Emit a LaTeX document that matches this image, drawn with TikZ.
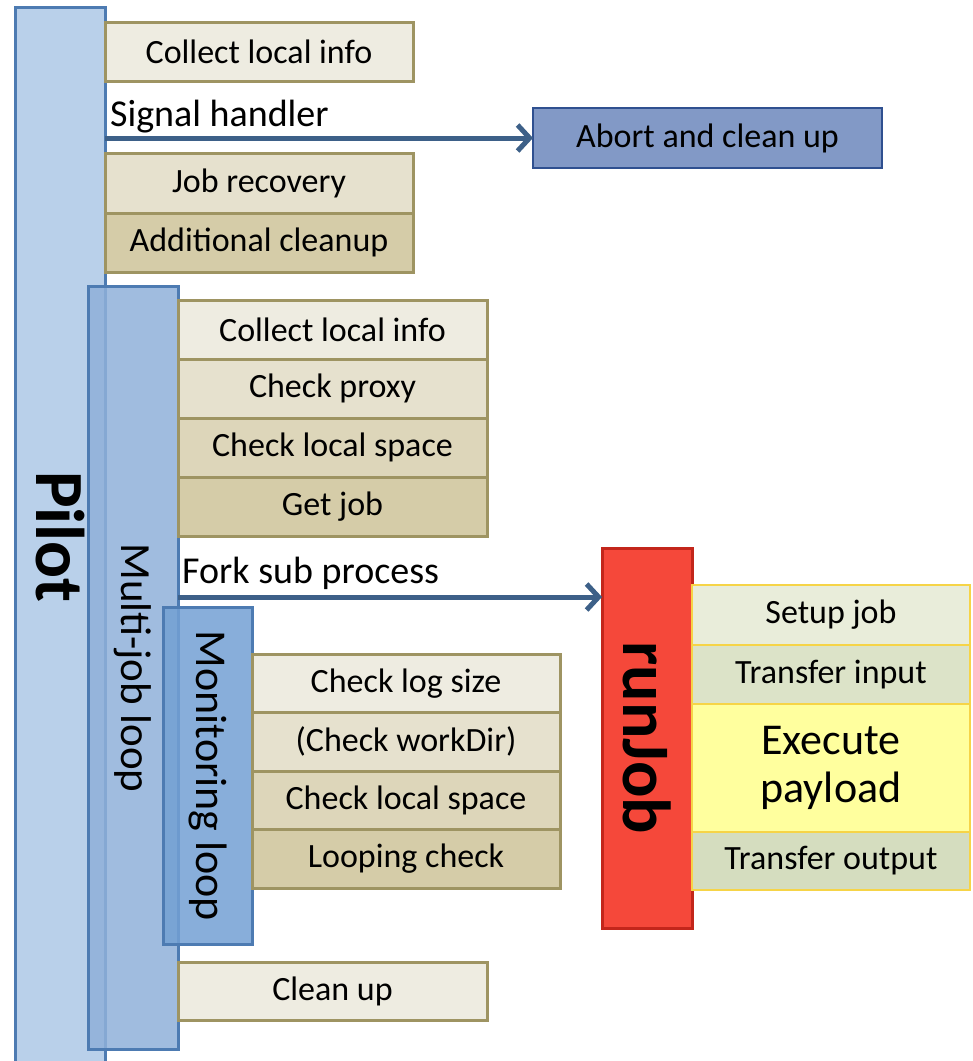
\documentclass[tikz,border=0pt]{standalone}
\usepackage{fontspec}
\setmainfont{Carlito}
\usetikzlibrary{positioning,arrows.meta}

\newlength{\du}
\setlength{\du}{1pt}

\definecolor{pilotfill}{HTML}{B9D0EA}
\definecolor{multifill}{HTML}{8FB0D9}
\definecolor{monfill}{HTML}{73A0D3}
\definecolor{barline}{HTML}{4D7BB2}
\definecolor{tanline}{HTML}{9E9462}
\definecolor{tanA}{HTML}{EEECE1}
\definecolor{tanB}{HTML}{E6E1CE}
\definecolor{tanC}{HTML}{DDD6BA}
\definecolor{tanD}{HTML}{D5CCA8}
\definecolor{abortfill}{HTML}{8299C6}
\definecolor{abortline}{HTML}{2F5090}
\definecolor{arrowcolor}{HTML}{3D6088}
\definecolor{runfill}{HTML}{F5483A}
\definecolor{runline}{HTML}{C3261B}
\definecolor{yelline}{HTML}{F6D447}
\definecolor{greenA}{HTML}{E9EDDA}
\definecolor{greenB}{HTML}{DCE3C8}
\definecolor{greenC}{HTML}{D5DDBF}
\definecolor{payfill}{HTML}{FFFF9E}

\tikzset{
  loopbar/.style={draw=barline, line width=3\du, rotate=-90, minimum height=90\du,
    inner sep=0pt, outer sep=0pt},
  stepbox/.style={draw=tanline, line width=3\du, minimum width=308\du, minimum height=59\du,
    inner sep=0pt, outer sep=0pt, font=\fontsize{34}{38}\selectfont},
  runbox/.style={draw=yelline, line width=2\du, minimum width=278\du, minimum height=59\du,
    inner sep=0pt, outer sep=0pt, font=\fontsize{34}{38}\selectfont},
  flowarrow/.style={draw=arrowcolor, line width=5\du,
    -{Straight Barb[length=12pt,width=26pt]}},
  flowlabel/.style={anchor=base west, inner sep=0pt, font=\fontsize{38}{42}\selectfont}
}

\begin{document}
\begin{tikzpicture}[x=\du,y=-\du]
\useasboundingbox (0,0) rectangle (973,1061);

% the three nested loop bars
\node[loopbar, fill=pilotfill, minimum width=1059\du, font=\fontsize{69}{74}\selectfont\bfseries]
  (pilot) at (60,537) {Pilot};
\node[loopbar, fill=multifill, fill opacity=0.85, text opacity=1, minimum width=763\du,
  font=\fontsize{43}{48}\selectfont] (multi) at (133,668) {Multi-job loop};
\node[loopbar, fill=monfill, fill opacity=0.85, text opacity=1, minimum width=337\du,
  minimum height=89\du, font=\fontsize{44}{48}\selectfont] (mon) at (207.5,776) {Monitoring loop};

% pilot steps
\node[stepbox, fill=tanA, anchor=north west] (pcollect) at (105,22) {Collect local info};
\node[stepbox, fill=tanB, anchor=north west, minimum height=60\du] (precover) at (105,153) {Job recovery};
\node[stepbox, fill=tanD, below=0pt of precover] (pclean) {Additional cleanup};

% signal handler
\node[draw=abortline, line width=2\du, fill=abortfill, minimum width=349\du, minimum height=60\du,
  inner sep=0pt, outer sep=0pt, anchor=north west, font=\fontsize{34}{38}\selectfont]
  (abort) at (533,108) {Abort and clean up};
\coordinate (sig) at (105,138);
\draw[flowarrow] (sig) -- (abort.west);
\node[flowlabel] (siglabel) at (110,126) {Signal handler};

% multi-job steps
\node[stepbox, fill=tanA, minimum width=309\du, anchor=north west] (mcollect) at (178,300) {Collect local info};
\node[stepbox, fill=tanB, minimum width=309\du, below=0pt of mcollect] (mproxy) {Check proxy};
\node[stepbox, fill=tanC, minimum width=309\du, below=0pt of mproxy] (mspace) {Check local space};
\node[stepbox, fill=tanD, minimum width=309\du, below=0pt of mspace] (mgetjob) {Get job};

% runJob
\node[draw=runline, line width=3\du, fill=runfill, rotate=-90, minimum width=380\du,
  minimum height=90\du, inner sep=0pt, outer sep=0pt, font=\fontsize{68}{74}\selectfont\bfseries]
  (runjob) at (647,738) {runJob};
\coordinate (fork) at (178,597);
\draw[flowarrow] (fork) -- (fork -| runjob.south);
\node[flowlabel] (forklabel) at (182,583) {Fork sub process};

\node[runbox, fill=greenA, minimum height=60\du, anchor=north west] (rsetup) at (692,585) {Setup job};
\node[runbox, fill=greenB, below=0pt of rsetup] (rinput) {Transfer input};
\node[runbox, fill=payfill, minimum height=128\du, below=0pt of rinput, align=center,
  font=\fontsize{44}{48}\selectfont] (rpayload) {Execute\\payload};
\node[runbox, fill=greenC, minimum height=58\du, below=0pt of rpayload] (routput) {Transfer output};

% monitoring steps
\node[stepbox, fill=tanA, minimum height=58.5\du, anchor=north west] (clog) at (252,654) {Check log size};
\node[stepbox, fill=tanB, minimum height=58.5\du, below=0pt of clog] (cwork) {(Check workDir)};
\node[stepbox, fill=tanC, minimum height=58.5\du, below=0pt of cwork] (cspace) {Check local space};
\node[stepbox, fill=tanD, minimum height=58.5\du, below=0pt of cspace] (cloop) {Looping check};

% final clean up
\node[stepbox, fill=tanA, minimum width=309\du, minimum height=58\du, anchor=north west]
  (mcleanup) at (178,962) {Clean up};
\end{tikzpicture}
\end{document}
